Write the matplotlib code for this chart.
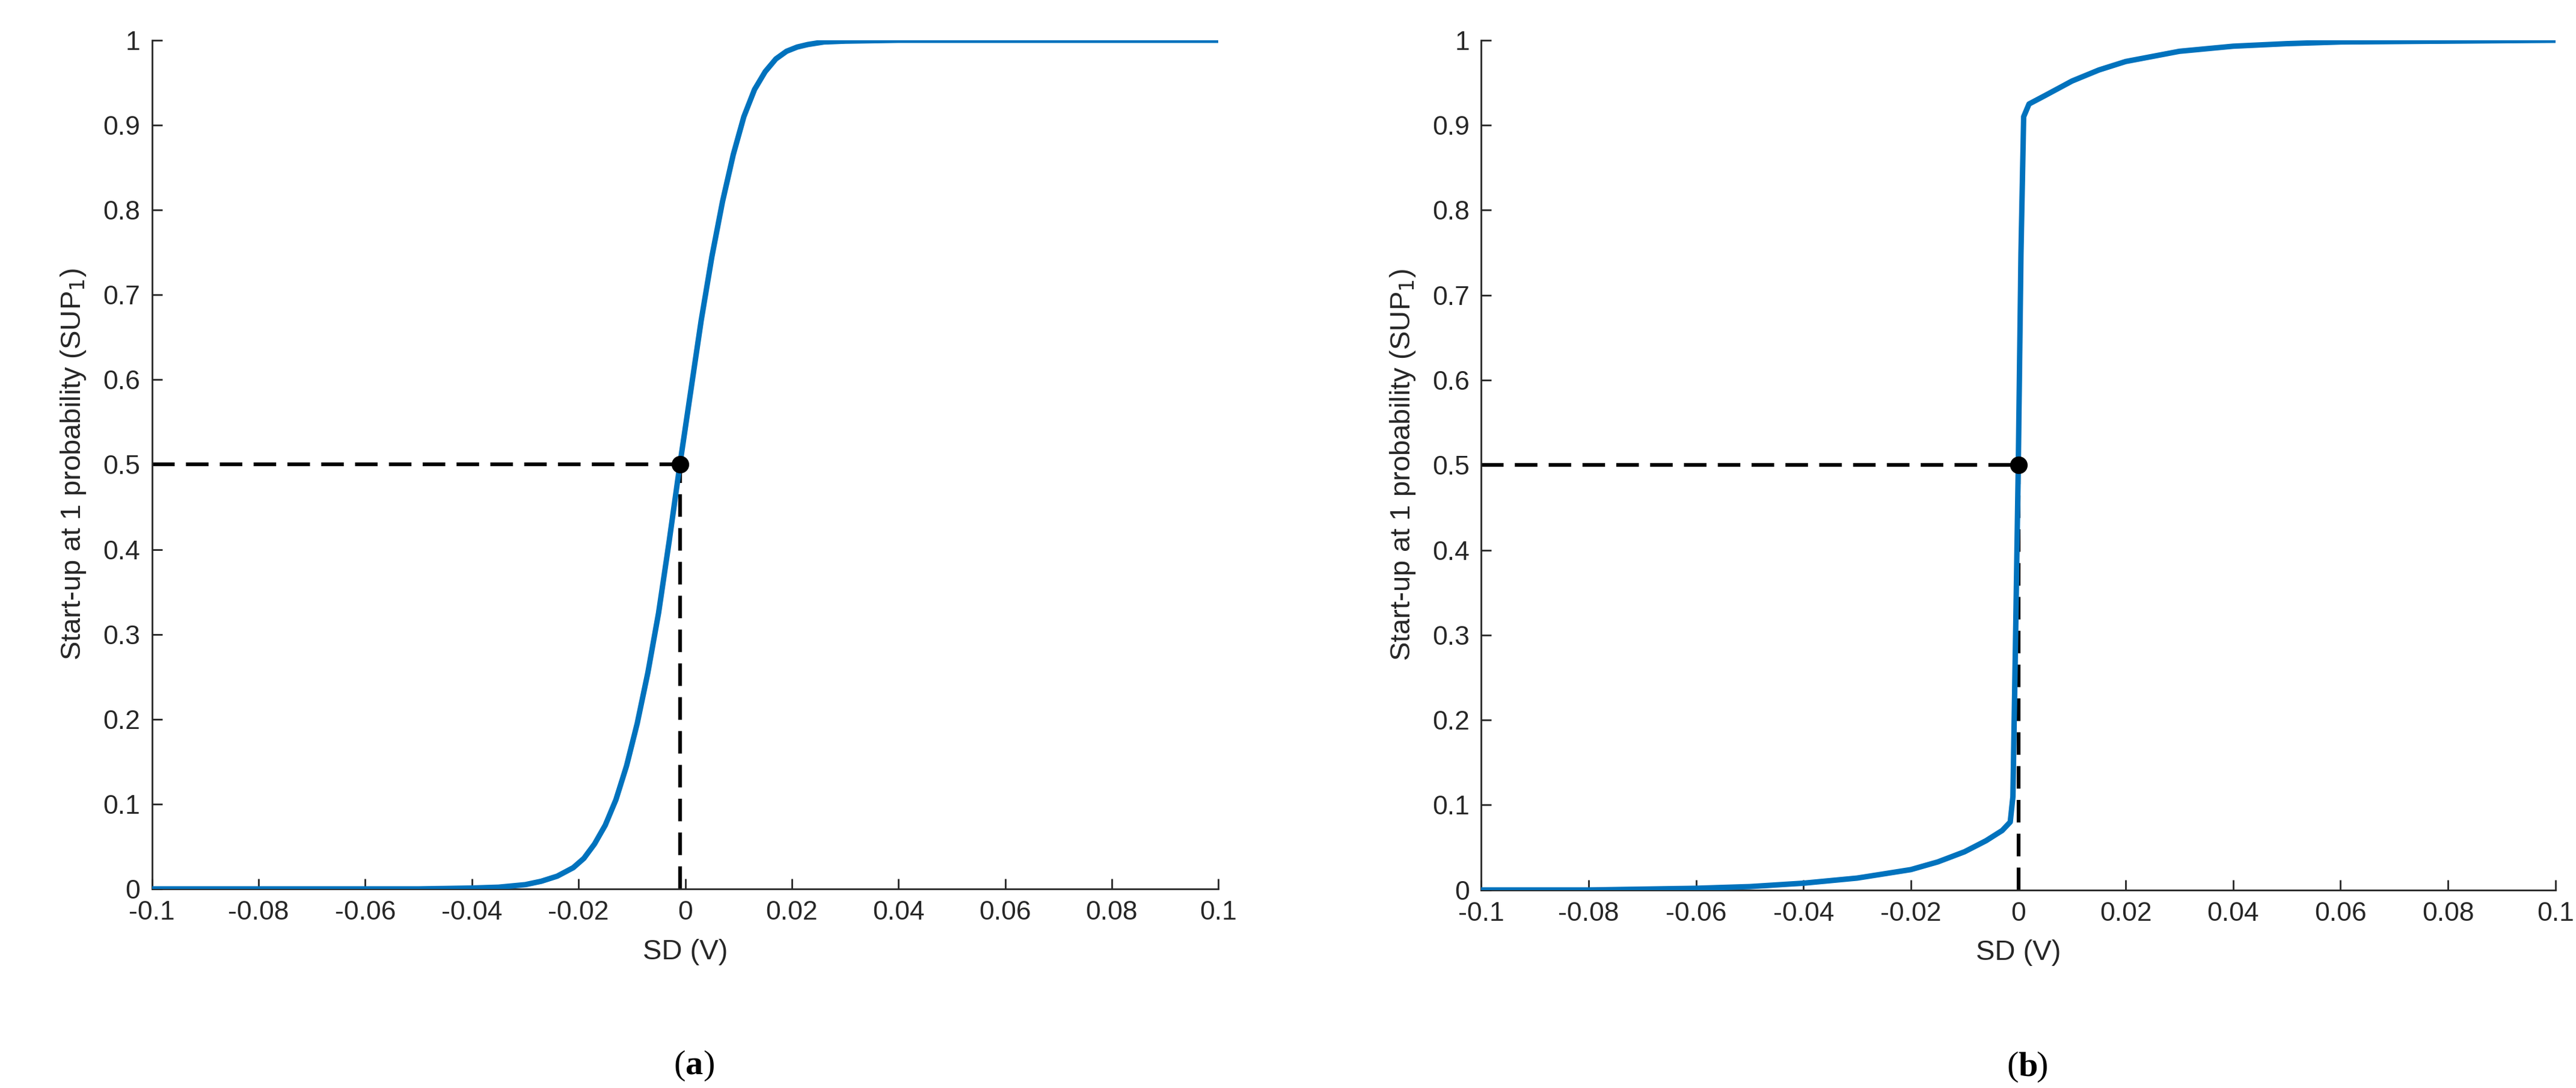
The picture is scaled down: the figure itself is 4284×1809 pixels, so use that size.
import matplotlib
matplotlib.use("Agg")
import matplotlib.pyplot as plt

xa = [-0.1, -0.05, -0.04, -0.035, -0.03, -0.027, -0.024, -0.021, -0.019, -0.017, -0.015, -0.013, -0.011, -0.009, -0.007,
      -0.005, -0.003, -0.001, 0.001, 0.003, 0.005, 0.007, 0.009, 0.011, 0.013, 0.015, 0.017, 0.019, 0.021, 0.023,
      0.026, 0.03, 0.04, 0.1]
ya = [0.0, 0.0, 0.001, 0.002, 0.005, 0.009, 0.015, 0.025, 0.036, 0.053, 0.075, 0.105, 0.145, 0.195, 0.255,
      0.325, 0.41, 0.50, 0.585, 0.67, 0.745, 0.81, 0.865, 0.91, 0.942, 0.963, 0.978, 0.987, 0.992, 0.995,
      0.998, 0.999, 1.0, 1.0]
xb = [-0.1, -0.08, -0.06, -0.05, -0.04, -0.03, -0.02, -0.015, -0.01, -0.006, -0.003, -0.0015, -0.001, -0.0005, 0.0,
      0.0005, 0.001, 0.002, 0.005, 0.01, 0.015, 0.02, 0.03, 0.04, 0.05, 0.06, 0.08, 0.1]
yb = [0.0, 0.0, 0.002, 0.004, 0.008, 0.014, 0.024, 0.033, 0.045, 0.058, 0.07, 0.08, 0.11, 0.3, 0.5,
      0.75, 0.91, 0.925, 0.935, 0.952, 0.965, 0.975, 0.987, 0.993, 0.996, 0.998, 0.999, 1.0]
x50 = [-0.001, 0.0]
xticks = [-0.1, -0.08, -0.06, -0.04, -0.02, 0, 0.02, 0.04, 0.06, 0.08, 0.1]
xticklabels = ['-0.1', '-0.08', '-0.06', '-0.04', '-0.02', '0', '0.02', '0.04', '0.06', '0.08', '0.1']
yticks = [0, 0.1, 0.2, 0.3, 0.4, 0.5, 0.6, 0.7, 0.8, 0.9, 1]
yticklabels = ['0', '0.1', '0.2', '0.3', '0.4', '0.5', '0.6', '0.7', '0.8', '0.9', '1']
panels = ['a', 'b']

plt.rcParams['font.family'] = ['Liberation Sans', 'DejaVu Sans']
fig = plt.figure(figsize=(42.84, 18.09), dpi=100)
axes = [fig.add_axes([0.059, 0.183, 0.414, 0.780]), fig.add_axes([0.575, 0.182, 0.417, 0.781])]
data = [(xa, ya), (xb, yb)]
serif = ['Liberation Serif', 'DejaVu Serif']
for i, ax in enumerate(axes):
    x, y = data[i]
    xc = x50[i]
    ax.plot([-0.1, xc], [0.5, 0.5], color='black', lw=4.5, ls=(0, (6, 3)), zorder=2)
    ax.plot([xc, xc], [0, 0.5], color='black', lw=4.5, ls=(0, (6, 3)), zorder=2)
    ax.plot(x, y, color='#0072BD', lw=6.5, zorder=3)
    ax.plot([xc], [0.5], 'o', color='black', ms=20, zorder=4)
    ax.set_xlim(-0.1, 0.1)
    ax.set_ylim(0, 1)
    ax.set_xticks(xticks)
    ax.set_xticklabels(xticklabels)
    ax.set_yticks(yticks)
    ax.set_yticklabels(yticklabels)
    ax.tick_params(direction='in', length=12, width=2, labelsize=32, colors='#262626', pad=14)
    for s in ['top', 'right']:
        ax.spines[s].set_visible(False)
    for s in ['left', 'bottom']:
        ax.spines[s].set_linewidth(2)
        ax.spines[s].set_color('#262626')
    ax.set_xlabel('SD (V)', fontsize=34, color='#262626', labelpad=16)
    ax.set_ylabel('Start-up at 1 probability (SUP$_1$)', fontsize=34, color='#262626', labelpad=18)
    ax.text(0.5, -0.19, '(', transform=ax.transAxes, ha='right', va='top', fontsize=42, family=serif)
    ax.text(0.5, -0.19, panels[i], transform=ax.transAxes, ha='left', va='top', fontsize=42,
            family=serif, fontweight='bold')
    ax.text(0.5 + 0.0165, -0.19, ')', transform=ax.transAxes, ha='left', va='top', fontsize=42, family=serif)
fig.savefig('out.png', dpi=100)
